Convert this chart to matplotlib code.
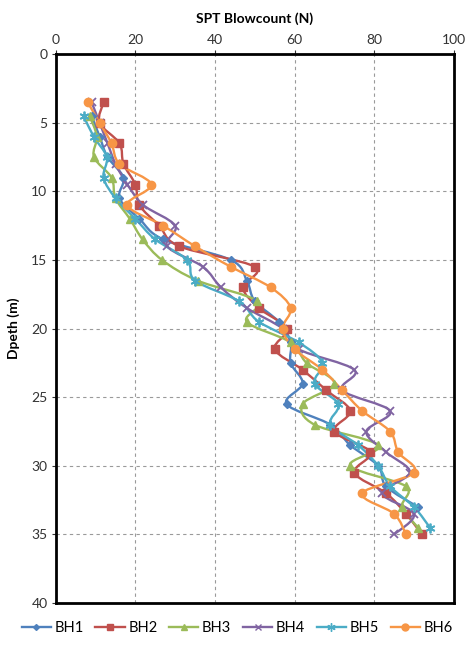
import matplotlib
matplotlib.use("Agg")
import matplotlib.pyplot as plt
from matplotlib.path import Path
from matplotlib.patches import PathPatch
from matplotlib.lines import Line2D

plt.rcParams.update({
    'font.family': ['Lato', 'DejaVu Sans'],
    'font.size': 10,
})

# depths (m) - two sampling sequences
depth_a = [3.5, 5, 6.5, 8, 9.5, 11, 12.5, 14, 15.5, 17, 18.5, 20, 21.5,
           23, 24.5, 26, 27.5, 29, 30.5, 32, 33.5, 35]
depth_b = [4.5, 6, 7.5, 9, 10.5, 12, 13.5, 15, 16.5, 18, 19.5, 21, 22.5,
           24, 25.5, 27, 28.5, 30, 31.5, 33, 34.5]

bh1 = [9, 11, 13, 17, 16, 21, 27, 44, 48, 50, 56, 59, 59, 62, 58, 69, 74, 81, 83, 91]
bh2 = [12, 11, 16, 17, 20, 21, 26, 31, 50, 47, 51, 58, 55, 62, 68, 74, 70, 79, 75, 83, 88, 92]
bh3 = [8.5, 10.3, 9.6, 14, 15, 18.6, 21.8, 26.7, 35.6, 50.6, 48, 59, 63, 70, 62, 65, 81, 74, 88, 87, 91]
bh4 = [9, 11, 13, 15, 18, 22, 30, 28, 37, 41.5, 48, 57, 61, 75, 72, 84, 78, 83, 89, 82, 90, 85]
bh5 = [7, 9.5, 12.8, 12, 15, 20, 25, 33, 35, 46, 51, 61, 67, 65, 71, 69, 76, 81, 84, 90, 94]
bh6 = [8, 11, 14, 16, 24, 18, 27, 35, 44, 54, 59, 57, 60, 67, 72, 77, 84, 86, 90, 77, 85, 88]

names = ['BH1', 'BH2', 'BH3', 'BH4', 'BH5', 'BH6']
series = [(bh1, depth_b[:len(bh1)]), (bh2, depth_a), (bh3, depth_b),
          (bh4, depth_a), (bh5, depth_b), (bh6, depth_a)]
colors = ['#4F81BD', '#C0504D', '#9BBB59', '#8064A2', '#4BACC6', '#F79646']
markers = ['D', 's', '^', 'x', (6, 2, 0), 'o']
msizes = [4, 6, 6, 6, 7, 6]


def smooth_path(xs, ys):
    # Excel-style smoothed line: Catmull-Rom segments as cubic Beziers
    pts = list(zip(xs, ys))
    verts = [pts[0]]
    codes = [Path.MOVETO]
    n = len(pts)
    for i in range(n - 1):
        p0 = pts[i - 1] if i > 0 else pts[i]
        p1 = pts[i]
        p2 = pts[i + 1]
        p3 = pts[i + 2] if i + 2 < n else pts[i + 1]
        c1 = (p1[0] + (p2[0] - p0[0]) / 6, p1[1] + (p2[1] - p0[1]) / 6)
        c2 = (p2[0] - (p3[0] - p1[0]) / 6, p2[1] - (p3[1] - p1[1]) / 6)
        verts += [c1, c2, p2]
        codes += [Path.CURVE4] * 3
    return Path(verts, codes)


fig = plt.figure(figsize=(4.65, 6.45), dpi=100)
ax = fig.add_axes([0.120, 0.065, 0.856, 0.851])

handles = []
for (vals, deps), name, c, m, ms in zip(series, names, colors, markers, msizes):
    ax.add_patch(PathPatch(smooth_path(vals, deps), fill=False, edgecolor=c, lw=1.7, zorder=3))
    ax.plot(vals, deps, linestyle='none', marker=m, color=c, markersize=ms,
            markeredgewidth=1.3 if m == 'x' or isinstance(m, tuple) else 1.0, zorder=4)
    handles.append(Line2D([0], [0], color=c, lw=1.7, marker=m, markersize=ms - 1))

ax.set_xlim(0, 100)
ax.set_ylim(40, 0)
ax.set_xticks(range(0, 101, 20))
ax.set_yticks(range(0, 41, 5))
ax.xaxis.tick_top()
ax.xaxis.set_label_position('top')
ax.set_xlabel('SPT Blowcount (N)', fontweight='bold', fontsize=10, labelpad=8)
ax.set_ylabel('Dpeth (m)', fontweight='bold', fontsize=10, labelpad=8)
ax.tick_params(axis='both', length=3, colors='#333333', labelsize=10, pad=3)
ax.grid(True, linestyle=(0, (3, 3)), color='#9a9a9a', lw=0.8)
ax.set_axisbelow(True)
for sp in ax.spines.values():
    sp.set_linewidth(2)
    sp.set_color('black')

fig.legend(handles, names, loc='lower center', ncol=6, frameon=False,
           bbox_to_anchor=(0.51, -0.005), fontsize=10.5, handlelength=2.0,
           columnspacing=0.8, handletextpad=0.25)

fig.savefig('out.png', dpi=100)
